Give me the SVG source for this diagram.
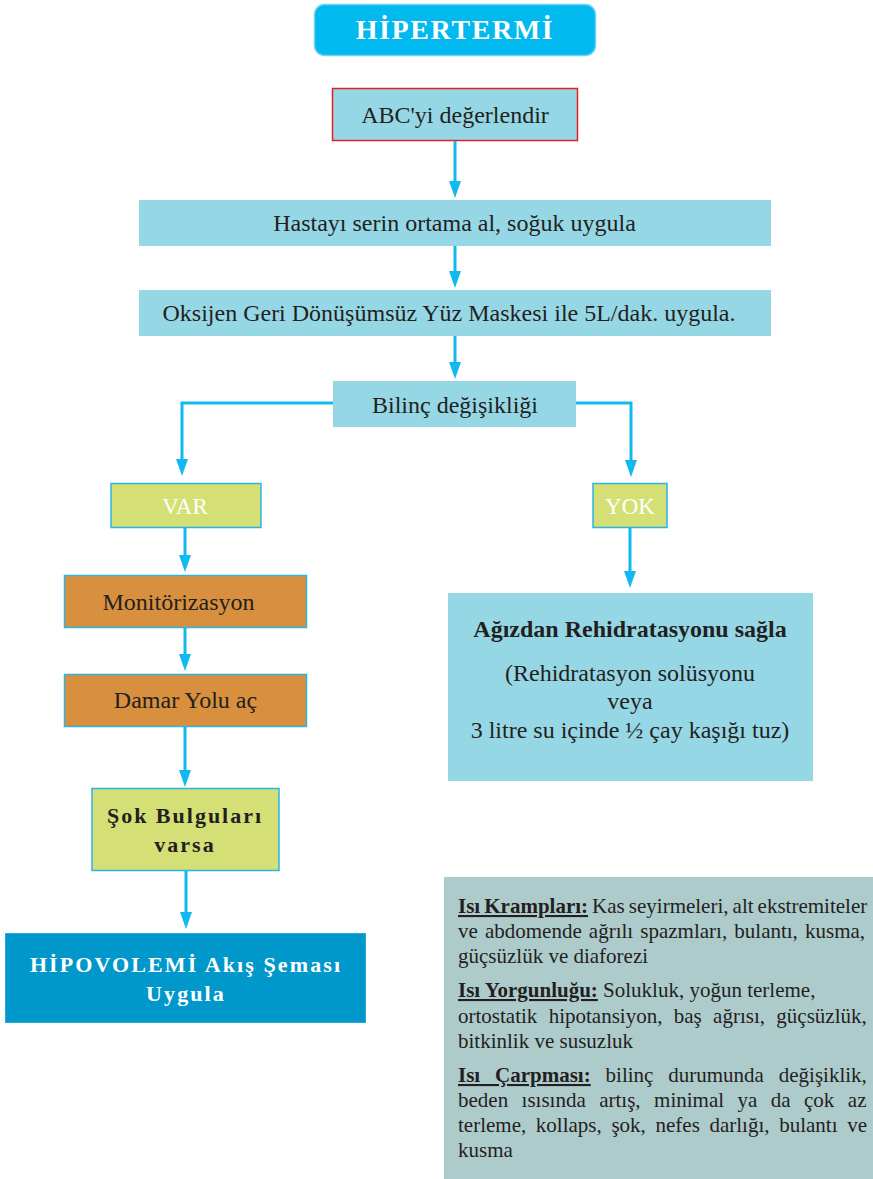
<svg xmlns="http://www.w3.org/2000/svg" width="873" height="1179" viewBox="0 0 873 1179">
<defs>
<marker id="ah" viewBox="0 0 17 12" refX="0" refY="6" markerWidth="17" markerHeight="12" markerUnits="userSpaceOnUse" orient="auto">
<path d="M0,0 L17,6 L0,12 z" fill="#12b9ef"/>
</marker>
<style>
.t{font-family:"Liberation Serif","Times New Roman",serif;fill:#231f20;}
.w{fill:#ffffff;}
.b{font-weight:bold;}
.lb{fill:#96d7e6;}
.gr{fill:#d4e075;stroke:#2cb4e6;stroke-width:1.5;}
.or{fill:#d8903f;stroke:#2cb4e6;stroke-width:1.5;}
.c{fill:none;stroke:#12b9ef;stroke-width:3;marker-end:url(#ah);}
.u{text-decoration:underline;font-weight:bold;}
</style>
</defs>
<rect width="873" height="1179" fill="#ffffff"/>

<g id="title">
<rect x="314.5" y="4.5" width="281" height="51" rx="10" fill="#00b9ef" stroke="#6fd3f3" stroke-width="1.5"/>
<text class="t w b" x="455" y="39" font-size="28" letter-spacing="1.6" text-anchor="middle">HİPERTERMİ</text>
</g>

<g id="abc">
<rect x="332.5" y="88.5" width="245" height="52" fill="#96d7e6" stroke="#ed1c24" stroke-width="1.5"/>
<text class="t" x="455" y="123" font-size="24" text-anchor="middle">ABC'yi değerlendir</text>
</g>

<g id="hastayi">
<rect class="lb" x="139" y="200" width="632" height="46"/>
<text class="t" x="454.5" y="231" font-size="24" text-anchor="middle">Hastayı serin ortama al, soğuk uygula</text>
</g>

<g id="oksijen">
<rect class="lb" x="139" y="290" width="632" height="46"/>
<text class="t" x="449" y="321" font-size="24" text-anchor="middle">Oksijen Geri Dönüşümsüz Yüz Maskesi ile 5L/dak. uygula.</text>
</g>

<g id="bilinc">
<rect class="lb" x="333" y="381" width="243" height="46"/>
<text class="t" x="455" y="413" font-size="24" text-anchor="middle">Bilinç değişikliği</text>
</g>

<g id="var">
<rect class="gr" x="111" y="483.5" width="150" height="44"/>
<text class="t w" x="185" y="514" font-size="23" text-anchor="middle">VAR</text>
</g>

<g id="yok">
<rect class="gr" x="593" y="483.5" width="74" height="44"/>
<text class="t w" x="630" y="514" font-size="23" text-anchor="middle">YOK</text>
</g>

<g id="monitor">
<rect class="or" x="64.5" y="575.5" width="242" height="52"/>
<text class="t" x="178.5" y="610" font-size="24" text-anchor="middle">Monitörizasyon</text>
</g>

<g id="damar">
<rect class="or" x="64.5" y="674.5" width="242" height="52"/>
<text class="t" x="185.5" y="708" font-size="24" text-anchor="middle">Damar Yolu aç</text>
</g>

<g id="sok">
<rect class="gr" x="92" y="788.5" width="187" height="82"/>
<text class="t b" x="185" y="823" font-size="22" letter-spacing="2" text-anchor="middle">Şok Bulguları</text>
<text class="t b" x="185" y="852" font-size="22" letter-spacing="2" text-anchor="middle">varsa</text>
</g>

<g id="hipovolemi">
<rect x="5.5" y="933.5" width="360" height="89" fill="#0098ca" stroke="#2aa9dc" stroke-width="1"/>
<text class="t w b" x="186" y="972" font-size="22" letter-spacing="2.1" text-anchor="middle">HİPOVOLEMİ Akış Şeması</text>
<text class="t w b" x="186" y="1001" font-size="22" letter-spacing="2.1" text-anchor="middle">Uygula</text>
</g>

<g id="agizdan">
<rect class="lb" x="448" y="593" width="365" height="188"/>
<text class="t b" x="630" y="637" font-size="24" text-anchor="middle">Ağızdan Rehidratasyonu sağla</text>
<text class="t" x="630" y="681" font-size="24" text-anchor="middle">(Rehidratasyon solüsyonu</text>
<text class="t" x="630" y="709" font-size="24" text-anchor="middle">veya</text>
<text class="t" x="630" y="738" font-size="24" text-anchor="middle">3 litre su içinde ½ çay kaşığı tuz)</text>
</g>

<g id="info">
<rect x="444" y="877" width="429" height="302" fill="#aecbcc"/>
<text class="t" x="458" y="913" font-size="21" word-spacing="-1.2"><tspan class="u">Isı Krampları:</tspan> Kas seyirmeleri, alt ekstremiteler</text>
<text class="t" x="458" y="938" font-size="21" word-spacing="1.87">ve abdomende ağrılı spazmları, bulantı, kusma,</text>
<text class="t" x="458" y="963" font-size="21">güçsüzlük ve diaforezi</text>
<text class="t" x="458" y="997" font-size="21"><tspan class="u">Isı Yorgunluğu:</tspan> Solukluk, yoğun terleme,</text>
<text class="t" x="458" y="1023" font-size="21" word-spacing="6.1">ortostatik hipotansiyon, baş ağrısı, güçsüzlük,</text>
<text class="t" x="458" y="1048" font-size="21">bitkinlik ve susuzluk</text>
<text class="t" x="458" y="1082" font-size="21" word-spacing="9.6"><tspan class="u">Isı Çarpması:</tspan> bilinç durumunda değişiklik,</text>
<text class="t" x="458" y="1107" font-size="21" word-spacing="8.2">beden ısısında artış, minimal ya da çok az</text>
<text class="t" x="458" y="1132" font-size="21" word-spacing="4.4">terleme, kollaps, şok, nefes darlığı, bulantı ve</text>
<text class="t" x="458" y="1157" font-size="21">kusma</text>
</g>

<g id="connectors">
<path class="c" d="M455,141 V181"/>
<path class="c" d="M455,246 V271"/>
<path class="c" d="M455,336 V362"/>
<path class="c" d="M333,403 H182 V459"/>
<path class="c" d="M576,403 H631 V460"/>
<path class="c" d="M185,528 V555"/>
<path class="c" d="M185,628 V654"/>
<path class="c" d="M185,727 V770"/>
<path class="c" d="M186,871 V912"/>
<path class="c" d="M630,527 V571"/>
</g>
</svg>
